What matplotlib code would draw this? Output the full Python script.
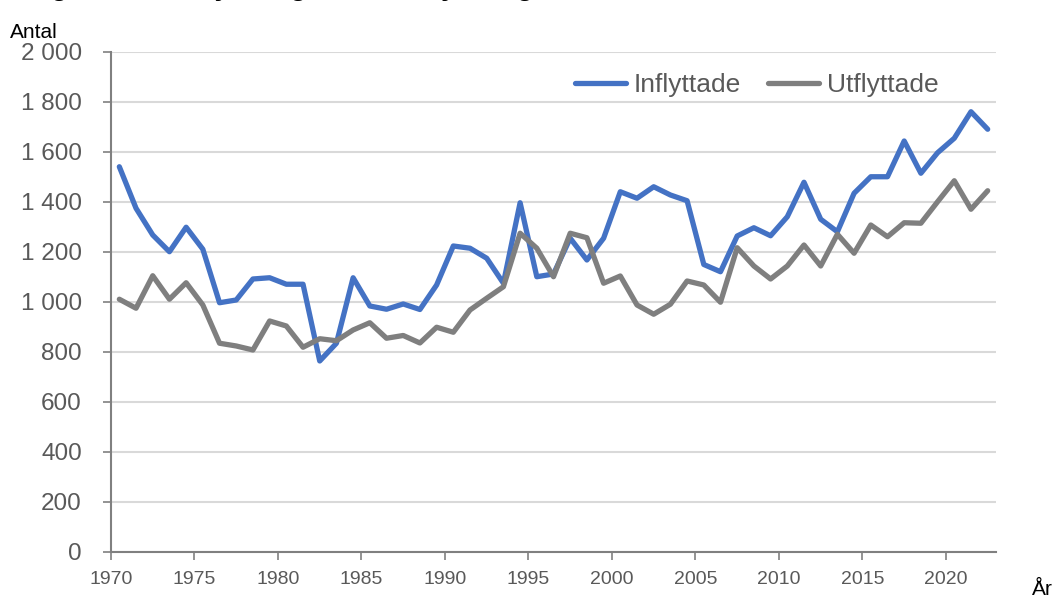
import matplotlib
matplotlib.use("Agg")
import matplotlib.pyplot as plt
from matplotlib.ticker import FuncFormatter

plt.rcParams['font.family'] = ['Liberation Sans', 'DejaVu Sans']

years = list(range(1970, 2023))
inflyttade = [1541, 1375, 1268, 1201, 1299, 1211, 997, 1008, 1092, 1097,
              1071, 1071, 764, 835, 1097, 984, 971, 992, 970, 1068,
              1224, 1215, 1175, 1075, 1397, 1101, 1112, 1255, 1168, 1255,
              1441, 1415, 1461, 1428, 1405, 1150, 1121, 1264, 1297, 1265,
              1341, 1479, 1331, 1281, 1435, 1501, 1501, 1644, 1515, 1597,
              1655, 1761, 1691]
utflyttade = [1011, 975, 1105, 1011, 1077, 988, 835, 824, 808, 924,
              904, 819, 853, 845, 888, 917, 855, 866, 836, 899,
              879, 968, 1015, 1061, 1275, 1215, 1101, 1275, 1257, 1075,
              1104, 988, 951, 991, 1084, 1068, 999, 1217, 1144, 1092,
              1144, 1228, 1144, 1271, 1195, 1308, 1261, 1317, 1315, 1401,
              1485, 1371, 1445]
tick_labels = ['1970', '1975', '1980', '1985', '1990', '1995', '2000',
               '2005', '2010', '2015', '2020']
series_names = ['Inflyttade', 'Utflyttade']

fig = plt.figure(figsize=(10.54, 5.99), dpi=100)
ax = fig.add_axes([0.1053, 0.0785, 0.8397, 0.8347])

ax.plot(years, inflyttade, color='#4472C4', lw=3.8, solid_joinstyle='round',
        solid_capstyle='round', label=series_names[0])
ax.plot(years, utflyttade, color='#7F7F7F', lw=3.8, solid_joinstyle='round',
        solid_capstyle='round', label=series_names[1])

ax.set_ylim(0, 2000)
ax.set_yticks(range(0, 2001, 200))
ax.yaxis.set_major_formatter(FuncFormatter(lambda v, p: f"{int(v):,}".replace(',', ' ')))
ax.set_xlim(1969.5, 2022.5)
ax.set_xticks([int(t) - 0.5 for t in tick_labels])
ax.set_xticklabels(tick_labels)

ax.grid(axis='y', color='#D9D9D9', lw=1.5)
ax.set_axisbelow(True)
for s in ['top', 'right']:
    ax.spines[s].set_visible(False)
for s in ['left', 'bottom']:
    ax.spines[s].set_color('#808080')
    ax.spines[s].set_linewidth(1.5)
ax.tick_params(axis='y', direction='out', length=6, width=1.2, color='#808080',
               labelsize=17.5, labelcolor='#595959', pad=15)
ax.tick_params(axis='x', direction='out', length=6, width=1.2, color='#808080',
               labelsize=14, labelcolor='#595959', pad=8)

leg = ax.legend(loc='upper right', bbox_to_anchor=(0.962, 1.005), ncol=2,
                frameon=False, fontsize=19, handlelength=1.95,
                columnspacing=1.0, handletextpad=0.3)
for t in leg.get_texts():
    t.set_color('#595959')

fig.text(0.009, 1 - 38 / 599, 'Antal', fontsize=15, color='black', va='baseline')
fig.text(0.979, 1 - 595 / 599, 'År', fontsize=15, color='black', va='baseline')
fig.text(0.008, 1.0 + 5.0 / 599, 'Diagram 10. Inflyttningar och utflyttningar 1970–2022',
         fontsize=20, fontweight='bold', va='baseline')

fig.savefig('out.png', dpi=100)
